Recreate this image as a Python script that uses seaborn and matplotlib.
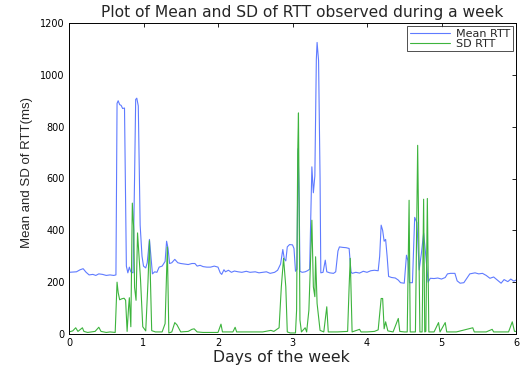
import numpy as np
import pandas as pd
import matplotlib
matplotlib.use("Agg")
import matplotlib.pyplot as plt
from matplotlib import font_manager
import seaborn as sns

# Mean RTT per sample (ms), indexed by day of the week
mean_days = [0.00, 0.10, 0.15, 0.19, 0.23, 0.27, 0.32, 0.36, 0.40, 0.45, 0.50, 0.55, 0.60, 0.63,
             0.645, 0.66, 0.68, 0.70, 0.72, 0.745, 0.77, 0.79, 0.81, 0.83, 0.86, 0.88, 0.895, 0.91,
             0.93, 0.955, 0.98, 1.00, 1.03, 1.05, 1.08, 1.10, 1.12, 1.15, 1.18, 1.21, 1.25, 1.29,
             1.31, 1.33, 1.35, 1.38, 1.42, 1.46, 1.50, 1.55, 1.60, 1.65, 1.69, 1.72, 1.76, 1.80,
             1.85, 1.90, 1.95, 2.00, 2.03, 2.05, 2.08, 2.10, 2.14, 2.18, 2.22, 2.27, 2.32, 2.38,
             2.43, 2.50, 2.55, 2.60, 2.65, 2.70, 2.76, 2.80, 2.84, 2.87, 2.89, 2.91, 2.93, 2.96,
             3.00, 3.02, 3.04, 3.06, 3.075, 3.09, 3.10, 3.13, 3.17, 3.20, 3.23, 3.26, 3.28, 3.30,
             3.32, 3.33, 3.35, 3.37, 3.38, 3.41, 3.44, 3.46, 3.50, 3.55, 3.58, 3.61, 3.63, 3.68,
             3.72, 3.76, 3.785, 3.80, 3.85, 3.90, 3.95, 4.00, 4.05, 4.10, 4.15, 4.17, 4.19, 4.21,
             4.23, 4.25, 4.27, 4.29, 4.33, 4.38, 4.42, 4.45, 4.50, 4.53, 4.55, 4.57, 4.61, 4.64,
             4.67, 4.70, 4.73, 4.76, 4.79, 4.82, 4.85, 4.90, 4.95, 5.00, 5.05, 5.08, 5.12, 5.18,
             5.21, 5.25, 5.30, 5.34, 5.38, 5.45, 5.50, 5.55, 5.60, 5.65, 5.70, 5.75, 5.80, 5.84,
             5.89, 5.93, 5.97, 6.00]
mean_rtt = [238, 240, 248, 252, 238, 228, 230, 226, 232, 230, 226, 228, 226, 228,
            890, 900, 885, 882, 870, 872, 262, 236, 258, 240, 236, 600, 905, 910,
            880, 420, 300, 262, 255, 275, 365, 300, 232, 240, 238, 258, 262, 280,
            358, 330, 272, 275, 288, 275, 272, 270, 268, 272, 272, 262, 265, 260,
            258, 258, 262, 258, 236, 230, 248, 240, 246, 238, 243, 240, 238, 242,
            238, 240, 236, 238, 240, 234, 238, 246, 270, 326, 290, 282, 336, 345,
            344, 330, 242, 250, 715, 500, 242, 238, 240, 244, 250, 645, 545, 610,
            1060, 1125, 1055, 600, 236, 238, 285, 240, 236, 234, 240, 320, 336, 334,
            333, 330, 240, 234, 238, 235, 242, 238, 244, 246, 244, 300, 420, 400,
            358, 365, 300, 222, 218, 216, 208, 198, 196, 304, 282, 198, 198, 450,
            430, 247, 311, 389, 300, 200, 215, 214, 216, 212, 218, 232, 234, 234,
            205, 196, 198, 215, 232, 236, 232, 234, 226, 215, 220, 208, 196, 210,
            202, 212, 204, 208]

# Standard deviation of RTT per sample (ms)
sd_days = [0.00, 0.05, 0.09, 0.12, 0.18, 0.20, 0.25, 0.30, 0.35, 0.40, 0.43, 0.50, 0.55, 0.62,
           0.645, 0.66, 0.68, 0.71, 0.74, 0.76, 0.78, 0.80, 0.81, 0.83, 0.85, 0.87, 0.88, 0.90,
           0.92, 0.96, 0.99, 1.03, 1.06, 1.08, 1.11, 1.16, 1.25, 1.29, 1.32, 1.34, 1.38, 1.42,
           1.45, 1.50, 1.60, 1.65, 1.68, 1.72, 1.80, 1.90, 2.00, 2.04, 2.06, 2.20, 2.23, 2.25,
           2.40, 2.60, 2.71, 2.75, 2.82, 2.85, 2.88, 2.91, 2.93, 2.97, 3.04, 3.055, 3.07, 3.08,
           3.10, 3.12, 3.17, 3.19, 3.22, 3.26, 3.28, 3.30, 3.31, 3.33, 3.37, 3.42, 3.46, 3.48,
           3.60, 3.74, 3.76, 3.775, 3.80, 3.90, 3.92, 4.00, 4.10, 4.15, 4.19, 4.21, 4.23, 4.25,
           4.28, 4.35, 4.42, 4.44, 4.50, 4.54, 4.565, 4.58, 4.65, 4.68, 4.695, 4.71, 4.74, 4.76,
           4.775, 4.79, 4.81, 4.83, 4.90, 4.96, 4.98, 5.05, 5.07, 5.20, 5.42, 5.44, 5.60, 5.68,
           5.70, 5.90, 5.95, 5.98, 6.00]
sd_rtt = [8, 12, 24, 10, 24, 10, 6, 8, 10, 26, 10, 6, 8, 6,
          200, 160, 132, 136, 138, 130, 10, 105, 140, 28, 505, 400, 180, 130,
          390, 210, 28, 12, 200, 360, 13, 8, 8, 40, 336, 4, 8, 44,
          35, 8, 10, 18, 20, 8, 6, 6, 6, 38, 8, 8, 26, 8,
          8, 8, 14, 10, 24, 182, 292, 182, 8, 4, 4, 92, 696, 853,
          54, 8, 24, 8, 92, 439, 182, 144, 298, 118, 14, 8, 105, 8,
          8, 10, 182, 292, 8, 18, 8, 8, 10, 16, 137, 137, 20, 47,
          12, 8, 60, 10, 8, 8, 516, 8, 8, 728, 375, 8, 8, 520,
          8, 10, 523, 8, 8, 44, 8, 44, 8, 8, 24, 8, 8, 18,
          8, 8, 47, 10, 10]

series_labels = ["Mean RTT", "SD RTT"]
series_colors = ["#5f7bff", "#3db43d"]

df = pd.concat([
    pd.DataFrame({"day": mean_days, "rtt": mean_rtt, "series": series_labels[0]}),
    pd.DataFrame({"day": sd_days, "rtt": sd_rtt, "series": series_labels[1]}),
], ignore_index=True)

sns.set_style("white")
plt.rcParams["font.family"] = ["DejaVu Sans"]

# Narrow face for the y label when present, otherwise Liberation Sans
installed = {f.name for f in font_manager.fontManager.ttflist}
if "Liberation Sans Narrow" in installed:
    ylabel_family, ylabel_size = ["Liberation Sans Narrow", "DejaVu Sans"], 11
else:
    ylabel_family, ylabel_size = ["Liberation Sans", "DejaVu Sans"], 9.5

fig = plt.figure(figsize=(5.24, 3.69), dpi=100)
ax = fig.add_axes([69 / 524, 1 - 334 / 369, 447 / 524, 311 / 369])

sns.lineplot(data=df, x="day", y="rtt", hue="series", palette=series_colors,
             estimator=None, sort=False, linewidth=0.8, ax=ax)

ax.set_xlim(0, 6)
ax.set_ylim(0, 1200)
ax.set_xticks(range(0, 7))
ax.set_yticks(range(0, 1201, 200))
ax.tick_params(direction="in", length=3, width=0.6, labelsize=7, pad=3,
               top=True, right=True, colors="black")
for s in ax.spines.values():
    s.set_visible(True)
    s.set_color("black")
    s.set_linewidth(0.7)

ax.set_title("Plot of Mean and SD of RTT observed during a week", fontsize=11.2,
             pad=4, x=0.522)
ax.set_xlabel("Days of the week", fontsize=11.3)
ax.xaxis.set_label_coords(0.475, -0.05)
ax.set_ylabel("Mean and SD of RTT(ms)", fontsize=ylabel_size, family=ylabel_family)
ax.yaxis.set_label_coords(-0.08, 0.52)

handles, labels = ax.get_legend_handles_labels()
leg = ax.legend(handles, labels, loc="upper right", fontsize=8, frameon=True,
                fancybox=False, handlelength=3.6, borderpad=0.2, labelspacing=0.05,
                borderaxespad=0.3, handletextpad=0.6)
leg.get_frame().set_edgecolor("black")
leg.get_frame().set_linewidth(0.6)

fig.savefig("out.png", dpi=100)
